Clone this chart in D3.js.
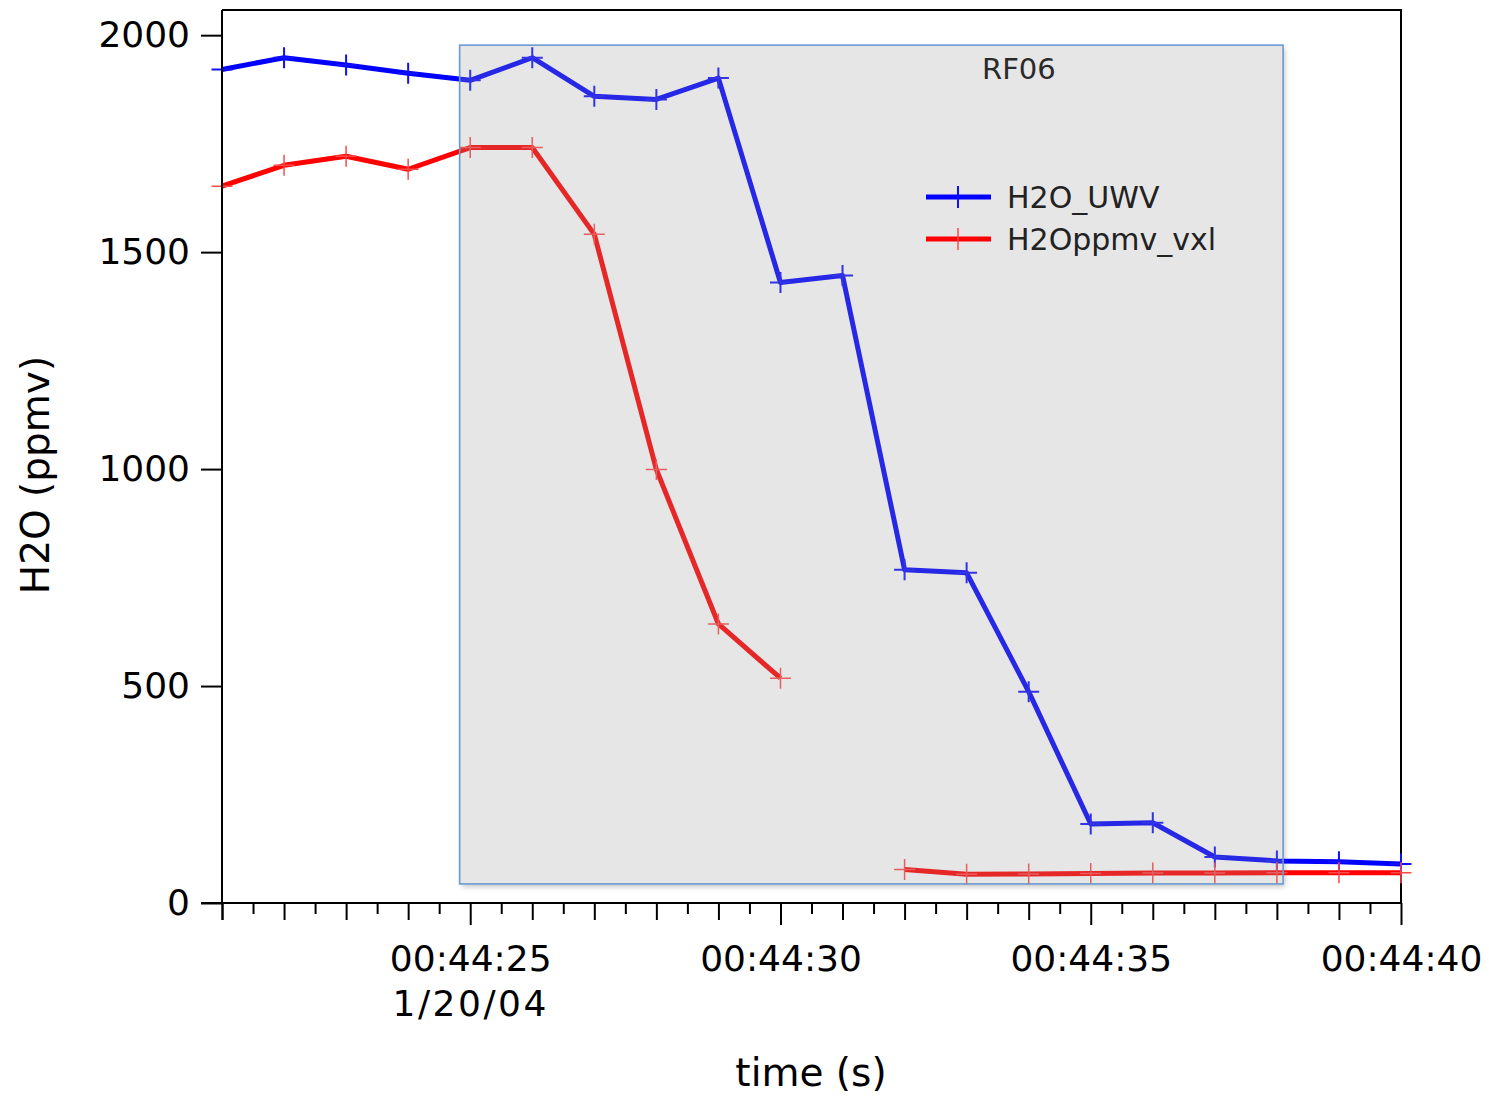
<!DOCTYPE html>
<html>
<head>
<meta charset="utf-8">
<script src="https://cdn.jsdelivr.net/npm/d3@7"></script>
<style>
  body { margin: 0; background: #fff; }
  svg text { font-family: "Lucida Grande", "DejaVu Sans", sans-serif; }
</style>
</head>
<body>
<svg width="1489" height="1097"></svg>
<script>
// seconds past 00:44 on 1/20/04
var seconds = [21, 22, 23, 24, 25, 26, 27, 28, 29, 30, 31, 32, 33, 34, 35, 36, 37, 38, 39, 40];
var h2oUWV = [1921, 1948, 1931, 1912, 1896, 1948, 1859, 1852, 1901, 1430, 1446, 768, 761, 487, 182, 185, 106, 97, 95, 90];
var h2oVXL = [1652, 1700, 1721, 1691, 1741, 1741, 1541, 999, 643, 518, null, 77, 66, 67, 68, 69, 69, 70, 70, 70];
var yTicks = [0, 500, 1000, 1500, 2000];
var seriesNames = ["H2O_UWV", "H2Oppmv_vxl"];
// highlighted window (time in s, value in ppmv)
var boxSeconds = [24.83, 38.1];
var boxValues = [44, 1977];

var svg = d3.select("svg");
var margins = { top: 10, left: 222, right: 88, bottom: 194 };
var svgWidth = +svg.attr("width");
var svgHeight = +svg.attr("height");

function t(s) { return new Date(2004, 0, 20, 0, 44, 0, s * 1000); }

var xScale = d3.scaleTime()
  .domain([t(21), t(40)])
  .range([margins.left, svgWidth - margins.right]);
var yScale = d3.scaleLinear()
  .domain([0, 2058])
  .range([svgHeight - margins.bottom, margins.top]);

var x0 = xScale.range()[0], x1 = xScale.range()[1];
var y0 = yScale.range()[0], y1 = yScale.range()[1];

// frame (top + right)
svg.append("path")
  .attr("d", `M${x0},${y1}H${x1}V${y0}`)
  .attr("fill", "none").attr("stroke", "#000").attr("stroke-width", 2);

// shadow for the highlight box
var defs = svg.append("defs");
defs.append("filter").attr("id", "blur")
  .attr("x", "-5%").attr("y", "-5%").attr("width", "110%").attr("height", "110%")
  .append("feGaussianBlur").attr("stdDeviation", 2.5);

var bx = xScale(t(boxSeconds[0])), bx2 = xScale(t(boxSeconds[1]));
var by = yScale(boxValues[1]), by2 = yScale(boxValues[0]);

svg.append("rect")
  .attr("x", bx + 2).attr("y", by + 3)
  .attr("width", bx2 - bx).attr("height", by2 - by)
  .attr("fill", "#000").attr("opacity", 0.22)
  .attr("filter", "url(#blur)");
svg.append("rect")
  .attr("x", bx).attr("y", by)
  .attr("width", bx2 - bx).attr("height", by2 - by)
  .attr("fill", "#fff");

// series
var series = [
  { name: seriesNames[0], values: h2oUWV, color: "#0000ff", markColor: "#1010ff", markWidth: 2 },
  { name: seriesNames[1], values: h2oVXL, color: "#ff0000", markColor: "#ff4a4a", markWidth: 1.5 }
];

var line = d3.line()
  .defined(function (d) { return d.v != null; })
  .x(function (d) { return xScale(t(d.s)); })
  .y(function (d) { return yScale(d.v); });

var cross = "M-10.5,0H10.5M0,-10.5V10.5";

series.forEach(function (sr) {
  var pts = seconds.map(function (s, i) { return { s: s, v: sr.values[i] }; });
  svg.append("path")
    .datum(pts)
    .attr("d", line)
    .attr("fill", "none")
    .attr("stroke", sr.color)
    .attr("stroke-width", 5)
    .attr("stroke-linejoin", "round");
  svg.append("g").selectAll("path")
    .data(pts.filter(function (d) { return d.v != null; }))
    .enter().append("path")
    .attr("transform", function (d) { return `translate(${xScale(t(d.s))},${yScale(d.v)})`; })
    .attr("d", cross)
    .attr("stroke", sr.markColor)
    .attr("stroke-width", sr.markWidth);
});

// translucent highlight box drawn over the traces
svg.append("rect")
  .attr("x", bx).attr("y", by)
  .attr("width", bx2 - bx).attr("height", by2 - by)
  .attr("fill", "rgb(154,154,154)").attr("fill-opacity", 0.25)
  .attr("stroke", "#6a9bd2").attr("stroke-width", 1.6);

svg.append("text")
  .attr("x", 982).attr("y", 79)
  .attr("font-size", 29).attr("fill", "#2a2a2a")
  .text("RF06");

// legend
var legend = svg.append("g").attr("transform", "translate(926,197)");
series.forEach(function (sr, i) {
  var g = legend.append("g").attr("transform", `translate(0,${i * 42})`);
  g.append("line").attr("x1", 0).attr("x2", 65)
    .attr("stroke", sr.color).attr("stroke-width", 5);
  g.append("path").attr("transform", "translate(32,0)")
    .attr("d", "M0,-11V11").attr("stroke", sr.markColor).attr("stroke-width", sr.markWidth);
  g.append("text").attr("x", 81).attr("y", 11)
    .attr("font-size", 30).attr("fill", "#222")
    .text(sr.name);
});

// y axis
var yAxis = svg.append("g")
  .attr("transform", `translate(${x0},0)`)
  .call(d3.axisLeft(yScale).tickValues(yTicks).tickSize(21).tickPadding(11).tickFormat(d3.format("d")));
yAxis.select(".domain").attr("d", `M0,${y0}V${y1}`).attr("stroke-width", 2);
yAxis.selectAll(".tick line").attr("stroke-width", 2);
yAxis.selectAll(".tick text").attr("font-size", 36).attr("fill", "#000");

// x axis: minor ticks every 0.5 s, medium every 1 s, major every 5 s
var allTicks = xScale.ticks(d3.timeMillisecond.every(500));
var halfTicks = allTicks.filter(function (d) { return d.getMilliseconds() !== 0; });
var secTicks = allTicks.filter(function (d) { return d.getMilliseconds() === 0 && d.getSeconds() % 5 !== 0; });
var majorTicks = allTicks.filter(function (d) { return d.getMilliseconds() === 0 && d.getSeconds() % 5 === 0; });

function tickAxis(vals, size) {
  var g = svg.append("g")
    .attr("transform", `translate(0,${y0})`)
    .call(d3.axisBottom(xScale).tickValues(vals).tickSize(size).tickFormat(""));
  g.select(".domain").remove();
  g.selectAll(".tick line").attr("stroke-width", 2);
  return g;
}
tickAxis(halfTicks, 11);
tickAxis(secTicks, 17);
tickAxis([t(21)], 17);

var fmt = d3.timeFormat("%H:%M:%S");
var xAxis = svg.append("g")
  .attr("transform", `translate(0,${y0})`)
  .call(d3.axisBottom(xScale).tickValues(majorTicks).tickSize(22).tickPadding(20).tickFormat(fmt));
xAxis.select(".domain").attr("d", `M${x0 - 21},0H${x1}`).attr("stroke-width", 2);
xAxis.selectAll(".tick line").attr("stroke-width", 2);
xAxis.selectAll(".tick text").attr("font-size", 36).attr("fill", "#000");
xAxis.selectAll(".tick")
  .filter(function (d) { return d.getSeconds() === 25; })
  .append("text")
  .attr("y", 42 + 45).attr("dy", "0.71em")
  .attr("font-size", 36).attr("fill", "#000")
  .attr("letter-spacing", 2.5)
  .attr("text-anchor", "middle")
  .text(d3.timeFormat("%-m/%d/%y")(t(25)));

// axis titles
svg.append("text")
  .attr("x", 811).attr("y", 1086)
  .attr("text-anchor", "middle").attr("font-size", 39)
  .text("time (s)");
svg.append("text")
  .attr("transform", "translate(49,475) rotate(-90)")
  .attr("text-anchor", "middle").attr("font-size", 39)
  .text("H2O (ppmv)");
</script>
</body>
</html>
